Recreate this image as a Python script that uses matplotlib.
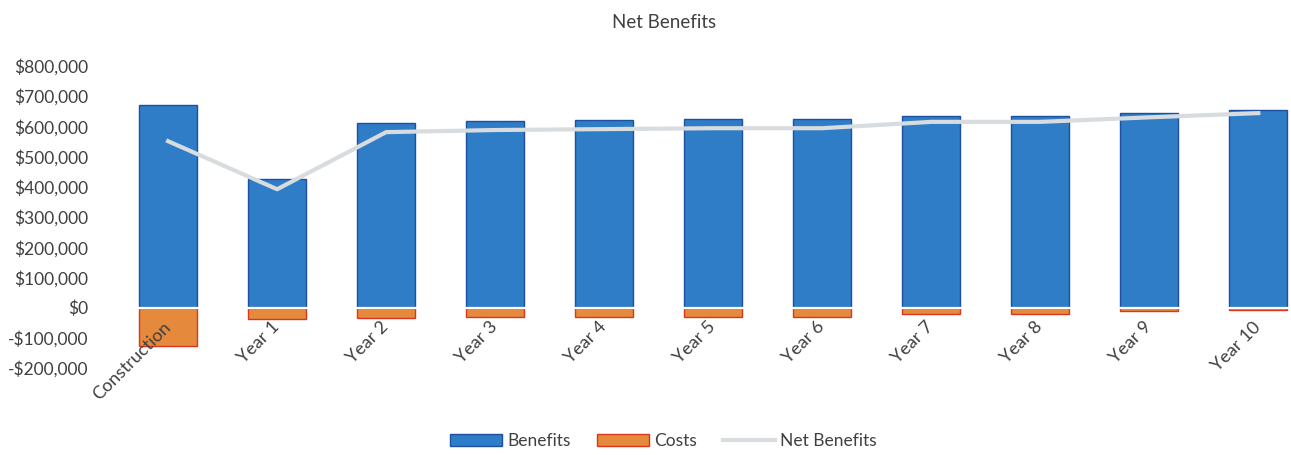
import numpy as np
import matplotlib
matplotlib.use("Agg")
import matplotlib.pyplot as plt
from matplotlib.ticker import FuncFormatter

plt.rcParams['font.family'] = ['Lato', 'DejaVu Sans']

categories = ["Construction", "Year 1", "Year 2", "Year 3", "Year 4", "Year 5",
              "Year 6", "Year 7", "Year 8", "Year 9", "Year 10"]
benefits = [671000, 425000, 611000, 618000, 621000, 624000, 624000, 635000, 635000, 645000, 654000]
costs = [-126000, -37000, -33000, -30000, -30000, -30000, -30000, -20000, -20000, -10000, -8000]
net_benefits = [551000, 392000, 581000, 588000, 591000, 594000, 594000, 615000, 615000, 630000, 644000]

fig = plt.figure(figsize=(12.91, 4.55), dpi=100)
ax = fig.add_axes([0.088, 0.191, 0.912, 0.664])

x = np.arange(len(categories))
w = 0.53
b1 = ax.bar(x, benefits, w, color="#2F7DC6", edgecolor="#1F4FA0", linewidth=1, label="Benefits")
b2 = ax.bar(x, costs, w, color="#E58A3C", edgecolor="#D9361E", linewidth=1, label="Costs")
ax.axhline(0, color="white", linewidth=1.6, zorder=2.5)
l1, = ax.plot(x, net_benefits, color="#D8DCDF", linewidth=3, label="Net Benefits", zorder=3)

ax.set_xlim(-0.5, 10.3)
ax.set_ylim(-200000, 800000)
ax.set_yticks(np.arange(-200000, 800001, 100000))
ax.yaxis.set_major_formatter(FuncFormatter(lambda v, p: f"${v:,.0f}" if v >= 0 else f"-${-v:,.0f}"))
ax.spines["bottom"].set_position(("data", 0))
ax.set_xticks(x)
ax.tick_params(axis="both", length=0, labelsize=12.5, colors="#404040")
ax.tick_params(axis="x", pad=12, labelsize=13)
ax.tick_params(axis="y", pad=18)
ax.set_xticklabels(categories)
for lab in ax.get_xticklabels():
    lab.set_rotation(45)
    lab.set_ha("right")
    lab.set_va("center")
    lab.set_rotation_mode("anchor")
for s in ax.spines.values():
    s.set_visible(False)

fig.text(0.514, 0.95, "Net Benefits", ha="center", va="center", fontsize=13.5, color="#404040")
fig.legend([b1, b2, l1], ["Benefits", "Costs", "Net Benefits"], loc="center",
           bbox_to_anchor=(0.514, 0.03), ncol=3, frameon=False,
           fontsize=12.5, handlelength=3, handleheight=0.7, columnspacing=1.5,
           handletextpad=0.3, labelcolor="#404040")

fig.savefig("out.png", dpi=100)
